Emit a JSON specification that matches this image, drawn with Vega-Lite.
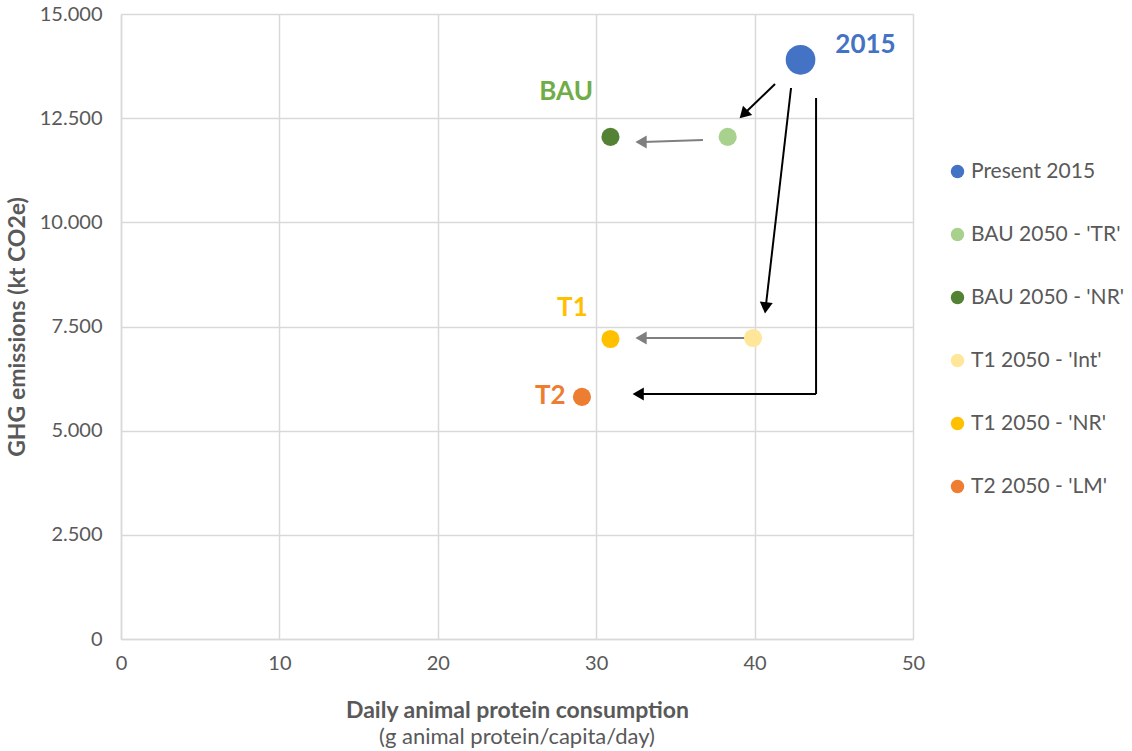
{
  "$schema": "https://vega.github.io/schema/vega-lite/v6.json",
  "width": 792,
  "height": 625,
  "autosize": {"type": "none"},
  "padding": {"left": 121, "top": 14, "right": 219, "bottom": 112},
  "background": "white",
  "config": {
    "view": {"stroke": null},
    "font": "Lato",
    "axis": {"labelFont": "Lato", "titleFont": "Lato", "labelColor": "#595959", "titleColor": "#595959", "gridColor": "#d9d9d9", "gridWidth": 1.5, "domainColor": "#d9d9d9", "domainWidth": 1.5, "ticks": false, "labelFontSize": 20, "titleFontSize": 23, "titleFontWeight": "bold", "labelFlush": false}
  },
  "title": {"text": "(g animal protein/capita/day)", "orient": "bottom", "anchor": "middle", "fontWeight": "normal", "fontSize": 22, "color": "#595959", "font": "Lato", "offset": 5},
  "resolve": {"scale": {"color": "independent", "fill": "independent", "stroke": "independent"}},
  "datasets": {
    "points": [
      {"series": "Present 2015", "protein": 42.9, "ghg": 13900},
      {"series": "BAU 2050 - 'TR'", "protein": 38.3, "ghg": 12050},
      {"series": "BAU 2050 - 'NR'", "protein": 30.9, "ghg": 12050},
      {"series": "T1 2050 - 'Int'", "protein": 39.9, "ghg": 7225},
      {"series": "T1 2050 - 'NR'", "protein": 30.9, "ghg": 7200},
      {"series": "T2 2050 - 'LM'", "protein": 29.1, "ghg": 5810}
    ],
    "labels": [
      {"label": "2015", "protein": 47.0, "ghg": 14255},
      {"label": "BAU", "protein": 28.1, "ghg": 13127},
      {"label": "T1", "protein": 28.5, "ghg": 7944},
      {"label": "T2", "protein": 27.1, "ghg": 5832}
    ],
    "segments": [
      {"arrow": "a1", "kind": "black", "x": 41.29, "y": 13320, "x2": 39.39, "y2": 12624},
      {"arrow": "a2", "kind": "grey", "x": 36.74, "y": 11976, "x2": 32.95, "y2": 11928},
      {"arrow": "a3", "kind": "black", "x": 42.30, "y": 13224, "x2": 40.71, "y2": 7992},
      {"arrow": "a4", "kind": "grey", "x": 39.71, "y": 7224, "x2": 32.95, "y2": 7224},
      {"arrow": "a5", "kind": "black", "x": 43.88, "y": 12984, "x2": 43.88, "y2": 5880},
      {"arrow": "a5", "kind": "black", "x": 43.88, "y": 5880, "x2": 32.77, "y2": 5880}
    ],
    "heads": [
      {"arrow": "a1", "kind": "black", "x": 39.39, "y": 12624},
      {"arrow": "a2", "kind": "grey", "x": 32.95, "y": 11928},
      {"arrow": "a3", "kind": "black", "x": 40.71, "y": 7992},
      {"arrow": "a4", "kind": "grey", "x": 32.95, "y": 7224},
      {"arrow": "a5", "kind": "black", "x": 32.77, "y": 5880}
    ]
  },
  "layer": [
    {
      "data": {"name": "segments"},
      "mark": {"type": "rule", "strokeWidth": 2},
      "encoding": {
        "x": {"field": "x", "type": "quantitative", "scale": {"domain": [0, 50], "nice": false}, "axis": {"values": [0, 10, 20, 30, 40, 50], "title": "Daily animal protein consumption", "labelPadding": 14, "titlePadding": 26, "grid": true}},
        "y": {"field": "y", "type": "quantitative", "scale": {"domain": [0, 15000], "nice": false}, "axis": {"values": [0, 2500, 5000, 7500, 10000, 12500, 15000], "title": "GHG emissions (kt CO2e)", "labelExpr": "replace(format(datum.value, ','), ',', '.')", "labelPadding": 19, "titlePadding": 10, "grid": true}},
        "x2": {"field": "x2"},
        "y2": {"field": "y2"},
        "stroke": {"field": "kind", "type": "nominal", "scale": {"domain": ["black", "grey"], "range": ["#000000", "#7f7f7f"]}, "legend": null}
      }
    },
    {
      "data": {"name": "heads"},
      "transform": [{"filter": "datum.arrow === 'a1'"}],
      "mark": {"type": "point", "shape": "triangle", "filled": true, "opacity": 1, "size": 170, "angle": 225, "color": "#000000"},
      "encoding": {"x": {"field": "x", "type": "quantitative"}, "y": {"field": "y", "type": "quantitative"}}
    },
    {
      "data": {"name": "heads"},
      "transform": [{"filter": "datum.arrow === 'a3'"}],
      "mark": {"type": "point", "shape": "triangle", "filled": true, "opacity": 1, "size": 170, "angle": 186.6, "color": "#000000"},
      "encoding": {"x": {"field": "x", "type": "quantitative"}, "y": {"field": "y", "type": "quantitative"}}
    },
    {
      "data": {"name": "heads"},
      "transform": [{"filter": "datum.arrow === 'a5'"}],
      "mark": {"type": "point", "shape": "triangle", "filled": true, "opacity": 1, "size": 170, "angle": 270, "color": "#000000"},
      "encoding": {"x": {"field": "x", "type": "quantitative"}, "y": {"field": "y", "type": "quantitative"}}
    },
    {
      "data": {"name": "heads"},
      "transform": [{"filter": "datum.kind === 'grey'"}],
      "mark": {"type": "point", "shape": "triangle", "filled": true, "opacity": 1, "size": 170, "angle": 270, "color": "#7f7f7f"},
      "encoding": {"x": {"field": "x", "type": "quantitative"}, "y": {"field": "y", "type": "quantitative"}}
    },
    {
      "data": {"name": "points"},
      "transform": [{"filter": "datum.series !== 'Present 2015'"}],
      "mark": {"type": "circle", "opacity": 1, "size": 330},
      "encoding": {
        "x": {"field": "protein", "type": "quantitative"},
        "y": {"field": "ghg", "type": "quantitative"},
        "fill": {"field": "series", "type": "nominal",
          "scale": {"domain": ["Present 2015", "BAU 2050 - 'TR'", "BAU 2050 - 'NR'", "T1 2050 - 'Int'", "T1 2050 - 'NR'", "T2 2050 - 'LM'"],
                    "range": ["#4472C4", "#A9D18E", "#548235", "#FFE699", "#FFC000", "#ED7D31"]},
          "legend": {"title": null, "orient": "none", "legendX": 826, "legendY": 147, "symbolType": "circle", "symbolSize": 180, "symbolStrokeWidth": 0, "labelFontSize": 21, "labelColor": "#595959", "labelFont": "Lato", "rowPadding": 41, "labelOffset": 3, "labelLimit": 300}}
      }
    },
    {
      "data": {"name": "points"},
      "transform": [{"filter": "datum.series === 'Present 2015'"}],
      "mark": {"type": "circle", "opacity": 1, "size": 880, "color": "#4472C4"},
      "encoding": {
        "x": {"field": "protein", "type": "quantitative"},
        "y": {"field": "ghg", "type": "quantitative"}
      }
    },
    {
      "data": {"name": "labels"},
      "mark": {"type": "text", "fontWeight": "bold", "fontSize": 26, "font": "Lato", "align": "center", "baseline": "middle"},
      "encoding": {
        "x": {"field": "protein", "type": "quantitative"},
        "y": {"field": "ghg", "type": "quantitative"},
        "text": {"field": "label"},
        "color": {"field": "label", "type": "nominal", "scale": {"domain": ["2015", "BAU", "T1", "T2"], "range": ["#4472C4", "#70AD47", "#FFC000", "#ED7D31"]}, "legend": null}
      }
    }
  ]
}
